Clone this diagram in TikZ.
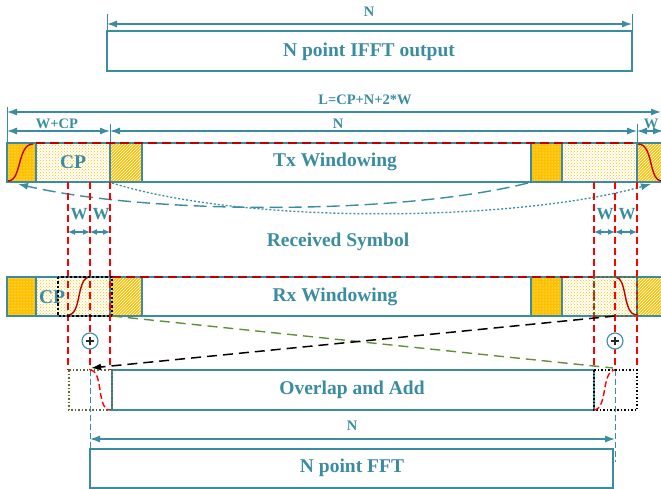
\documentclass[tikz,border=0pt]{standalone}
\usepackage{fontspec}
\setmainfont{Liberation Serif}
\usetikzlibrary{patterns,arrows.meta}
\definecolor{tl}{HTML}{3A8CA0}
\definecolor{yel}{HTML}{FFC000}
\definecolor{dred}{HTML}{C00000}
\definecolor{olv}{HTML}{5E6B34}
\definecolor{grn}{HTML}{5F8F3A}
\tikzset{
  seg/.style={draw=tl,line width=1.3pt},
  dense/.style={fill=yel,postaction={pattern=dots,pattern color=white}},
  light/.style={fill=white,postaction={pattern=crosshatch dots,pattern color=yel}},
  hatch/.style={fill=yel,postaction={pattern=north east lines,pattern color=white}},
  dim/.style={tl,line width=1.2pt,{Latex[length=10pt,width=7pt]}-{Latex[length=10pt,width=7pt]}},
  sdim/.style={tl,line width=1.2pt,{Latex[length=7pt,width=6pt]}-{Latex[length=7pt,width=6pt]}},
  tick/.style={tl,line width=1pt},
  big/.style={text=tl,font=\bfseries\fontsize{19.5}{22}\selectfont},
  mid/.style={text=tl,font=\bfseries\fontsize{17}{20}\selectfont},
  small/.style={text=tl,font=\bfseries\fontsize{14.5}{17}\selectfont},
  rdash/.style={red,line width=1.3pt,dash pattern=on 7pt off 4pt},
  topred/.style={dred,line width=1.8pt,dash pattern=on 9pt off 5pt},
  scurve/.style={dred,line width=1.4pt},
  cplus/.style={circle,draw=tl,fill=white,line width=1.1pt,minimum size=16pt,inner sep=0pt},
}
\begin{document}
\begin{tikzpicture}[x=1pt,y=-1pt]
\useasboundingbox (0,0) rectangle (661,489);
% ---------- top IFFT
\node[small] (nTop) at (369,12) {N};
\draw[tick] (107,14) -- (107,31) (632,14) -- (632,31);
\coordinate (ta) at (107,24); \coordinate (tb) at (632,24);
\draw[dim] (ta) -- (tb);
\draw[seg] (107,31) rectangle (632,71);
\node[big] (ifft) at (369,52) {N point IFFT output};
% ---------- length dims
\node[small] (lbl) at (365,100) {L=CP+N+2*W};
\draw[tick] (7,107) -- (7,143);
\draw[tick] (110,124) -- (110,143);
\draw[tick] (637,124) -- (637,143);
\coordinate (la) at (7,112); \coordinate (lb) at (661,112);
\draw[dim] (la) -- (lb);
\node[small] (wcp) at (57,124) {W+CP};
\node[small] (nmid) at (338,124) {N};
\node[small] (wr) at (651,124) {W};
\coordinate (da) at (7,131); \coordinate (db) at (110,131); \coordinate (dc) at (637,131); \coordinate (dd) at (663,131);
\draw[dim] (da) -- (db);
\draw[dim] (db) -- (dc);
\draw[dim] (dc) -- (dd);
% ---------- Tx row
\path[dense] (7,143) rectangle (36,182);
\path[light] (36,143) rectangle (110,182);
\path[hatch] (110,143) rectangle (142,182);
\path[fill=white] (142,143) rectangle (531,182);
\path[dense] (531,143) rectangle (562,182);
\path[light] (562,143) rectangle (637,182);
\path[hatch] (637,143) rectangle (662,182);
\draw[seg] (7,143) rectangle (663,182);
\draw[seg] (36,143) -- (36,182) (110,143) -- (110,182) (142,143) -- (142,182)
           (531,143) -- (531,182) (562,143) -- (562,182) (637,143) -- (637,182);
\draw[topred] (36,143) -- (637,143);
\draw[scurve] (8,181) .. controls (22,181) and (17,144) .. (33,144);
\draw[scurve] (638,144) .. controls (654,144) and (648,181) .. (662,181);
\node[big] (cpTx) at (73,162) {CP};
\node[big] (tx) at (335,162) {Tx Windowing};
% arcs
\draw[tl,line width=1.4pt,dash pattern=on 13pt off 6pt,-{Latex[length=10pt,width=7pt]}]
  (528,183) .. controls (400,215) and (150,215) .. (18,184);
\draw[tl,line width=1.3pt,dash pattern=on 2pt off 2pt,-{Latex[length=10pt,width=7pt]}]
  (112,183) .. controls (250,226) and (520,221) .. (651,184);
% ---------- W labels
\node[mid] (w1) at (79,214) {W};
\node[mid] (w2) at (101,214) {W};
\node[mid] (w3) at (605,214) {W};
\node[mid] (w4) at (627,214) {W};
\coordinate (v1) at (68,232); \coordinate (v2) at (90,232); \coordinate (v3) at (110,232);
\coordinate (v4) at (594,232); \coordinate (v5) at (615,232); \coordinate (v6) at (637,232);
\draw[sdim] (v1) -- (v2); \draw[sdim] (v2) -- (v3);
\draw[sdim] (v4) -- (v5); \draw[sdim] (v5) -- (v6);
\node[big] (recv) at (338,242) {Received Symbol};
% ---------- Rx row
\path[dense] (7,277) rectangle (36,316);
\path[light] (36,277) rectangle (110,316);
\path[hatch] (110,277) rectangle (142,316);
\path[fill=white] (142,277) rectangle (531,316);
\path[dense] (531,277) rectangle (562,316);
\path[light] (562,277) rectangle (637,316);
\path[hatch] (637,277) rectangle (662,316);
\draw[seg] (7,277) rectangle (663,316);
\draw[seg] (36,277) -- (36,316) (110,277) -- (110,316) (142,277) -- (142,316)
           (531,277) -- (531,316) (562,277) -- (562,316) (637,277) -- (637,316);
\draw[topred] (112,277) -- (594,277);
\node[big] (cpRx) at (52,297) {CP};
\node[big] (rx) at (335,297) {Rx Windowing};
% ---------- vertical guide lines
\draw[rdash] (68,182) -- (68,370);
\draw[rdash] (90,182) -- (90,370);
\draw[rdash] (110,182) -- (110,370);
\draw[rdash] (594,182) -- (594,370);
\draw[rdash] (615,182) -- (615,370);
\draw[rdash] (637,182) -- (637,370);
\draw[tl,line width=0.9pt,dash pattern=on 6pt off 3pt] (90,370) -- (90,449);
\draw[tl,line width=0.9pt,dash pattern=on 6pt off 3pt] (615,370) -- (615,462);
% Rx windows
\draw[scurve] (68,315) .. controls (82,315) and (76,277) .. (90,277);
\draw[scurve] (615,277) .. controls (628,277) and (622,315) .. (637,315);
\draw[black,line width=2.4pt,dotted] (58,277) rectangle (112,316);
\draw[olv,line width=2.4pt,dotted] (594,277) rectangle (637,316);
% circled plus
\node[cplus] (p1) at (90,341) {};
\node[cplus] (p2) at (615,341) {};
\draw[black!85,line width=1.8pt] ([xshift=-4pt]p1.center) -- ([xshift=4pt]p1.center)
  ([yshift=-4pt]p1.center) -- ([yshift=4pt]p1.center);
\draw[black!85,line width=1.8pt] ([xshift=-4pt]p2.center) -- ([xshift=4pt]p2.center)
  ([yshift=-4pt]p2.center) -- ([yshift=4pt]p2.center);
% crossing lines
\coordinate (g1) at (112,316); \coordinate (g2) at (613,368);
\draw[grn,line width=1.4pt,dash pattern=on 10pt off 6pt] (g1) -- (g2);
\coordinate (k1) at (615,316); \coordinate (k2) at (91,368);
\draw[black,line width=1.5pt,dash pattern=on 10pt off 6pt,-{Latex[length=10pt,width=7pt]}] (k1) -- (k2);
% ---------- Overlap and add
\draw[seg,fill=white] (112,370) rectangle (594,410);
\node[big] (ovl) at (352,390) {Overlap and Add};
\draw[olv,line width=1.5pt,dotted] (69,370) rectangle (112,410);
\draw[black,line width=1.5pt,dotted] (594,370) rectangle (637,410);
\draw[red,line width=1.4pt,dash pattern=on 6pt off 3pt] (90,370) .. controls (104,371) and (96,409) .. (110,410);
\draw[red,line width=1.4pt,dash pattern=on 6pt off 3pt] (594,410) .. controls (608,409) and (601,371) .. (615,370);
% ---------- bottom FFT
\node[small] (nBot) at (352,426) {N};
\coordinate (ba) at (90,439); \coordinate (bb) at (615,439);
\draw[dim] (ba) -- (bb);
\draw[seg] (90,449) rectangle (613,488);
\node[big] (fft) at (352,468) {N point FFT};
\end{tikzpicture}
\end{document}
